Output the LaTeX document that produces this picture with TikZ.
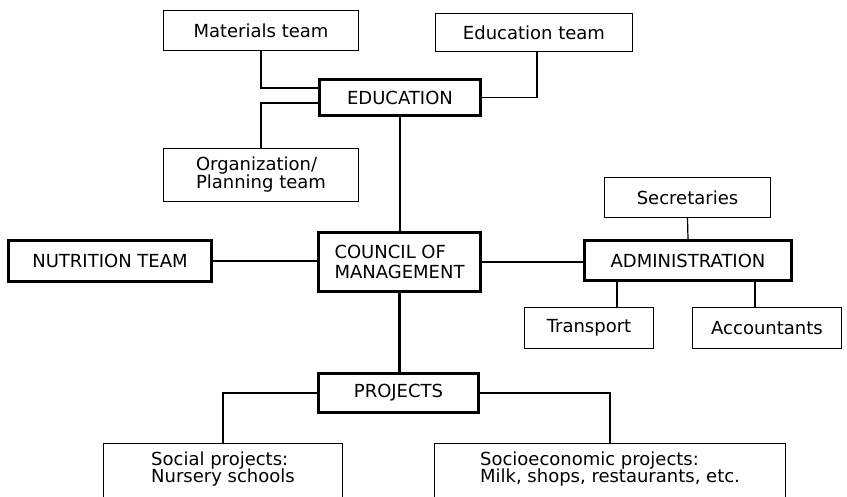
\documentclass[tikz,border=0pt]{standalone}
\usepackage{fontspec}
\setmainfont{DejaVu Sans}
% box text: size 18, given line distance, lines kept at that distance
\newcommand\boxfont[1]{\fontsize{18}{#1}\selectfont\lineskiplimit=-20pt\relax}
\tikzset{
  tm/.style={rectangle, draw, line width=1.2pt, inner sep=0pt, align=center,
             font={\boxfont{18}}},
  % boxes of the main units (heavy frame)
  unit/.style={tm, line width=2.8pt},
  % project boxes run off the page at the bottom
  proj/.style={tm, anchor=north, align=left, inner ysep=8.5pt, text depth=60pt,
               font={\boxfont{16.5}}},
  ln/.style={line width=1.2pt},
  lnm/.style={line width=2.2pt},
  lnb/.style={line width=2.8pt}
}

\begin{document}
\begin{tikzpicture}[x=1pt,y=-1pt]
    \useasboundingbox (0,0) rectangle (847,497);
    \clip (0,0) rectangle (847,497);

    % ---- education and its teams ----
    \node[tm, minimum width=195pt, minimum height=40pt] (mat) at (261,30.5) {Materials team};
    \node[tm, minimum width=197pt, minimum height=38pt] (edt) at (534,32.5) {Education team};
    \node[unit, minimum width=161pt, minimum height=36pt] (edu) at (400,97.5) {EDUCATION};
    \node[tm, minimum width=195pt, minimum height=53pt, align=left] (org) at (261,175) {Organization/\\Planning team};

    \draw[ln] (mat.south) |- ([yshift=9.5pt]edu.west);
    \draw[ln] ([yshift=-5.5pt]edu.west) -| (org.north);
    \draw[ln] ([xshift=3pt]edt.south) |- (edu.east);

    % ---- council in the middle ----
    \node[unit, minimum width=162pt, minimum height=59pt, align=left,
          font={\boxfont{19.5}}] (cou) at (399.5,262) {COUNCIL OF\\MANAGEMENT};
    \node[unit, minimum width=203pt, minimum height=41pt] (nut) at (110,261) {NUTRITION TEAM};
    \draw[lnb] (edu.south) -- (edu.south |- cou.north);
    \draw[lnm] (nut.east) -- (nut.east -| cou.west);

    % ---- administration ----
    \node[unit, minimum width=207pt, minimum height=40pt] (adm) at (688,260.5) {ADMINISTRATION};
    \node[tm, minimum width=166pt, minimum height=40pt] (sec) at (687.5,197.5) {Secretaries};
    \node[tm, minimum width=129pt, minimum height=41pt] (tra) at (589,328) {Transport};
    \node[tm, minimum width=149pt, minimum height=41pt] (acc) at (767,328) {Accountants};

    \draw[lnm] (cou.east) -- (cou.east -| adm.west);
    \draw[ln] (sec.south) -- (adm.north);
    \draw[ln] ([xshift=-71pt]adm.south) -- ([xshift=-71pt]adm.south |- tra.north);
    \draw[ln] ([xshift=67pt]adm.south) -- ([xshift=67pt]adm.south |- acc.north);

    % ---- projects ----
    \node[unit, minimum width=160pt, minimum height=39pt] (pro) at (398.5,393) {PROJECTS};
    \node[proj, minimum width=239pt] (soc) at (223,443) {Social projects:\\Nursery schools};
    \node[proj, minimum width=351pt] (eco) at (610,443) {Socioeconomic projects:\\Milk, shops, restaurants, etc.};

    \draw[lnb] (cou.south) -- (cou.south |- pro.north);
    \draw[ln] (pro.west) -| (soc.north);
    \draw[ln] (pro.east) -| (eco.north);
\end{tikzpicture}
\end{document}
